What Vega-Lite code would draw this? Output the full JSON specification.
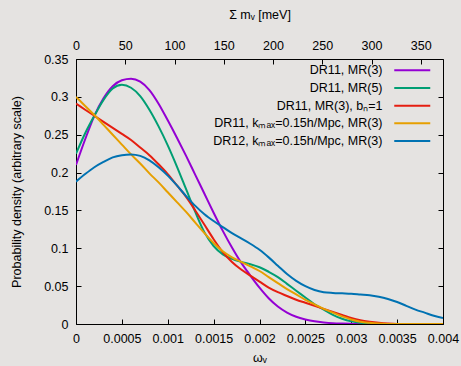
{
  "$schema": "https://vega.github.io/schema/vega-lite/v6.json",
  "width": 367,
  "height": 265,
  "autosize": {"type": "none"},
  "padding": {"left": 76, "top": 59, "right": 18, "bottom": 42},
  "background": "#e5e3e1",
  "config": {
    "font": "Liberation Sans",
    "view": {"stroke": "#000000", "strokeWidth": 1},
    "axis": {
      "domain": false, "grid": false, "labelOverlap": false, "labelFlush": false,
      "labelFont": "Liberation Sans", "labelFontSize": 12.5, "labelColor": "#000000",
      "titleFont": "Liberation Sans", "titleFontSize": 12.5, "titleFontWeight": "normal", "titleColor": "#000000",
      "tickColor": "#000000", "tickSize": -5, "tickWidth": 1
    }
  },
  "datasets": {
    "names": [
      {"key": "a", "label": "DR11, MR(3)"},
      {"key": "b", "label": "DR11, MR(5)"},
      {"key": "c", "label": "DR11, MR(3), bₙ=1"},
      {"key": "d", "label": "DR11, kₘₐₓ=0.15h/Mpc, MR(3)"},
      {"key": "e", "label": "DR12, kₘₐₓ=0.15h/Mpc, MR(3)"}
    ],
    "curves": [
      {"w": 0.0000, "a": 0.210, "b": 0.225, "c": 0.291, "d": 0.300, "e": 0.188},
      {"w": 0.0001, "a": 0.244, "b": 0.252, "c": 0.283, "d": 0.288, "e": 0.198},
      {"w": 0.0002, "a": 0.275, "b": 0.275, "c": 0.275, "d": 0.276, "e": 0.207},
      {"w": 0.0003, "a": 0.298, "b": 0.296, "c": 0.267, "d": 0.263, "e": 0.214},
      {"w": 0.0004, "a": 0.314, "b": 0.311, "c": 0.259, "d": 0.250, "e": 0.220},
      {"w": 0.0005, "a": 0.322, "b": 0.316, "c": 0.251, "d": 0.237, "e": 0.223},
      {"w": 0.0006, "a": 0.324, "b": 0.312, "c": 0.243, "d": 0.224, "e": 0.224},
      {"w": 0.0007, "a": 0.320, "b": 0.301, "c": 0.233, "d": 0.212, "e": 0.222},
      {"w": 0.0008, "a": 0.309, "b": 0.283, "c": 0.223, "d": 0.199, "e": 0.216},
      {"w": 0.0009, "a": 0.291, "b": 0.261, "c": 0.211, "d": 0.187, "e": 0.207},
      {"w": 0.0010, "a": 0.269, "b": 0.236, "c": 0.198, "d": 0.174, "e": 0.196},
      {"w": 0.0011, "a": 0.246, "b": 0.208, "c": 0.183, "d": 0.161, "e": 0.183},
      {"w": 0.0012, "a": 0.222, "b": 0.178, "c": 0.168, "d": 0.148, "e": 0.169},
      {"w": 0.0013, "a": 0.197, "b": 0.148, "c": 0.150, "d": 0.134, "e": 0.156},
      {"w": 0.0014, "a": 0.172, "b": 0.121, "c": 0.131, "d": 0.120, "e": 0.145},
      {"w": 0.0015, "a": 0.147, "b": 0.103, "c": 0.112, "d": 0.107, "e": 0.136},
      {"w": 0.0016, "a": 0.123, "b": 0.092, "c": 0.095, "d": 0.096, "e": 0.128},
      {"w": 0.0017, "a": 0.101, "b": 0.086, "c": 0.082, "d": 0.088, "e": 0.120},
      {"w": 0.0018, "a": 0.081, "b": 0.082, "c": 0.072, "d": 0.082, "e": 0.113},
      {"w": 0.0019, "a": 0.064, "b": 0.079, "c": 0.064, "d": 0.076, "e": 0.106},
      {"w": 0.0020, "a": 0.048, "b": 0.075, "c": 0.056, "d": 0.070, "e": 0.098},
      {"w": 0.0021, "a": 0.034, "b": 0.069, "c": 0.048, "d": 0.062, "e": 0.088},
      {"w": 0.0022, "a": 0.023, "b": 0.062, "c": 0.042, "d": 0.054, "e": 0.077},
      {"w": 0.0023, "a": 0.015, "b": 0.053, "c": 0.037, "d": 0.046, "e": 0.066},
      {"w": 0.0024, "a": 0.0095, "b": 0.044, "c": 0.032, "d": 0.039, "e": 0.057},
      {"w": 0.0025, "a": 0.006, "b": 0.035, "c": 0.028, "d": 0.032, "e": 0.050},
      {"w": 0.0026, "a": 0.0035, "b": 0.026, "c": 0.024, "d": 0.026, "e": 0.045},
      {"w": 0.0027, "a": 0.002, "b": 0.019, "c": 0.020, "d": 0.020, "e": 0.042},
      {"w": 0.0028, "a": 0.001, "b": 0.012, "c": 0.016, "d": 0.015, "e": 0.041},
      {"w": 0.0029, "a": 0.0005, "b": 0.007, "c": 0.012, "d": 0.010, "e": 0.0405},
      {"w": 0.0030, "a": 0.0002, "b": 0.0035, "c": 0.008, "d": 0.006, "e": 0.040},
      {"w": 0.0031, "a": 0.0, "b": 0.0015, "c": 0.005, "d": 0.003, "e": 0.039},
      {"w": 0.0032, "a": 0.0, "b": 0.0005, "c": 0.003, "d": 0.0015, "e": 0.038},
      {"w": 0.0033, "a": 0.0, "b": 0.0002, "c": 0.0015, "d": 0.0005, "e": 0.036},
      {"w": 0.0034, "a": 0.0, "b": 0.0, "c": 0.0005, "d": 0.0001, "e": 0.033},
      {"w": 0.0035, "a": 0.0, "b": 0.0, "c": 0.0, "d": 0.0, "e": 0.029},
      {"w": 0.0036, "a": 0.0, "b": 0.0, "c": 0.0, "d": 0.0, "e": 0.024},
      {"w": 0.0037, "a": 0.0, "b": 0.0, "c": 0.0, "d": 0.0, "e": 0.019},
      {"w": 0.0038, "a": 0.0, "b": 0.0, "c": 0.0, "d": 0.0, "e": 0.015},
      {"w": 0.0039, "a": 0.0, "b": 0.0, "c": 0.0, "d": 0.0, "e": 0.011},
      {"w": 0.0040, "a": 0.0, "b": 0.0, "c": 0.0, "d": 0.0, "e": 0.008}
    ]
  },
  "layer": [
    {
      "data": {"name": "curves"},
      "transform": [
        {"fold": ["a", "b", "c", "d", "e"], "as": ["key", "p"]},
        {"lookup": "key", "from": {"data": {"name": "names"}, "key": "key", "fields": ["label"]}}
      ],
      "mark": {"type": "line", "interpolate": "monotone", "strokeWidth": 2, "clip": true},
      "encoding": {
        "x": {
          "field": "w", "type": "quantitative",
          "scale": {"domain": [0, 0.004], "nice": false},
          "axis": {"values": [0, 0.0005, 0.001, 0.0015, 0.002, 0.0025, 0.003, 0.0035, 0.004], "format": ".4~f", "title": "ωᵥ", "labelPadding": 13, "titlePadding": 7}
        },
        "y": {
          "field": "p", "type": "quantitative",
          "scale": {"domain": [0, 0.35], "nice": false},
          "axis": {"values": [0, 0.05, 0.1, 0.15, 0.2, 0.25, 0.3, 0.35], "format": ".2~f", "title": "Probability density (arbitrary scale)", "labelPadding": 13, "titlePadding": 20}
        },
        "color": {
          "field": "label", "type": "nominal",
          "scale": {
            "domain": ["DR11, MR(3)", "DR11, MR(5)", "DR11, MR(3), bₙ=1", "DR11, kₘₐₓ=0.15h/Mpc, MR(3)", "DR12, kₘₐₓ=0.15h/Mpc, MR(3)"],
            "range": ["#9400d3", "#009e73", "#e51e10", "#e69f00", "#0072b2"]
          },
          "legend": {
            "orient": "none", "legendX": 330, "legendY": 5, "title": null,
            "symbolType": "M-4,0H4", "symbolSize": 81, "symbolStrokeWidth": 2,
            "labelAlign": "right", "labelOffset": -36, "labelFontSize": 12.5, "labelFont": "Liberation Sans",
            "labelColor": "#000000", "labelLimit": 300, "rowPadding": 4.7
          }
        }
      }
    },
    {
      "data": {"values": [{"m": 0, "q": 0}, {"m": 372.56, "q": 0.35}]},
      "mark": {"type": "point", "opacity": 0},
      "encoding": {
        "x": {
          "field": "m", "type": "quantitative",
          "scale": {"domain": [0, 372.56], "nice": false},
          "axis": {"orient": "top", "values": [0, 50, 100, 150, 200, 250, 300, 350], "title": "Σ mᵥ [meV]", "labelPadding": 12, "titlePadding": 18}
        },
        "y": {
          "field": "q", "type": "quantitative",
          "scale": {"domain": [0, 0.35], "nice": false},
          "axis": {"orient": "right", "values": [0, 0.05, 0.1, 0.15, 0.2, 0.25, 0.3, 0.35], "labels": false, "title": null}
        }
      }
    }
  ],
  "resolve": {"scale": {"x": "independent", "y": "independent"}, "axis": {"x": "independent", "y": "independent"}}
}
